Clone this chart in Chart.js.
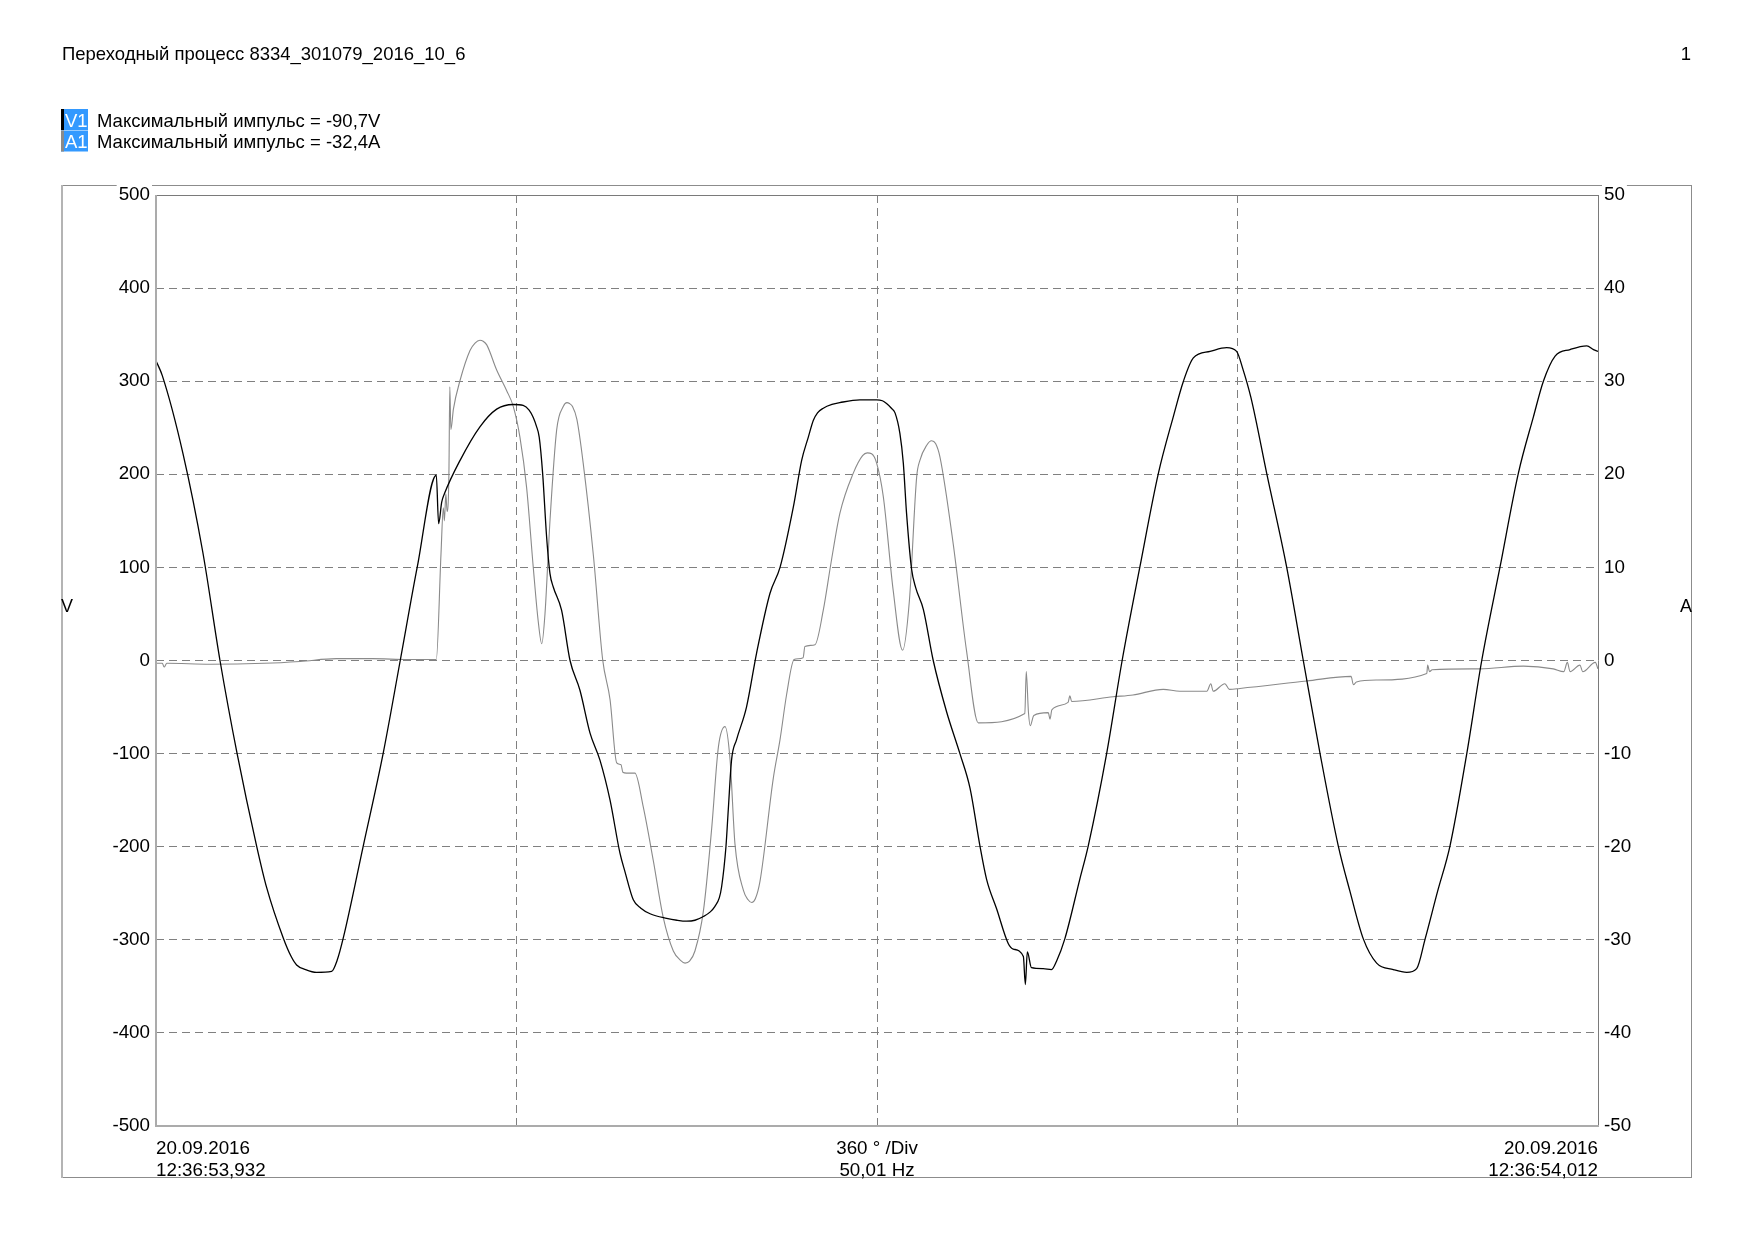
<!DOCTYPE html>
<html lang="ru">
<head>
<meta charset="utf-8">
<title>Переходный процесс 8334_301079_2016_10_6</title>
<script src="https://cdn.jsdelivr.net/npm/chart.js@4.4.1/dist/chart.umd.min.js"></script>
<style>
    html, body { margin: 0; padding: 0; background: #fff; }
    canvas { display: block; }
</style>
</head>
<body>
<canvas id="scope" width="1754" height="1240"></canvas>
<script>
// время, мс от 12:36:53,932
const voltTime = [
    0, 0.35, 1.5, 2.6, 3.55, 4.5, 5.58, 6.14, 7.06, 7.5, 7.8, 8.3, 8.9, 9.74, 10.05, 10.39, 11.5, 12.6, 13.55,
    14.5, 15.55, 15.68, 15.85, 16.0, 16.87, 17.97, 18.9, 19.82, 20.37, 20.7, 20.93, 21.1, 21.26, 21.45, 21.67,
    21.86, 22.04, 22.5, 22.97, 23.52, 24.08, 24.63, 25.19, 25.74, 26.02, 26.48, 26.9, 27.41, 28.33, 28.9, 29.44,
    29.9, 30.37, 30.75, 31.01, 31.25, 31.38, 31.62, 31.75, 31.93, 32.21, 32.76, 33.32, 34.06, 34.62, 35.36, 35.82, 36.19,
    36.47, 36.7, 37.02, 37.5, 37.94, 39.05, 39.98, 40.3, 40.53, 40.8, 41.0, 41.27, 41.46, 41.64, 41.92, 42.15, 42.57, 43.12,
    43.86, 44.6, 45.16, 45.71, 46.08, 46.64, 47.28, 47.56, 48.12, 48.23, 48.34, 48.57, 49.22, 49.68,
    49.96, 50.42, 51.25, 51.72, 52.74, 53.6, 54.59, 55.61, 56.44, 57.0, 57.55, 58.48, 59.4, 59.95,
    60.3, 60.75, 61.62, 62.72, 63.65, 64.58, 65.59, 66.24, 66.98, 67.72, 68.65, 69.39, 69.94, 70.41,
    71.1, 71.79, 72.72, 73.55, 74.57, 75.58, 76.42, 76.97, 77.62, 78.45, 79.38, 79.75, 80
];
const voltValues = [
    322, 306, 222, 116, 0, -100, -199, -244, -298, -318, -327, -332, -335, -334, -322, -298, -199, -100, 0,
    101, 199, 147, 170, 179, 215, 251, 270, 275, 274, 269, 261, 252, 240, 201, 133,
    93, 79, 54, 0, -32, -78, -107, -150, -207, -227, -257, -266, -272, -277, -279, -280,
    -279, -275, -270, -264, -255, -243, -200, -160, -107, -85, -50, 8, 72, 100, 165, 215, 240,
    258, 266, 271, 275, 277, 280, 280, 279, 276, 271, 266, 244, 212, 158, 98, 78, 55, 0,
    -55, -100, -137, -199, -235, -267, -304, -310, -318, -348, -313, -330, -331, -332,
    -323, -299, -235, -199, -100, 0, 101, 201, 262, 300, 325, 332, 336, 332,
    313, 282, 201, 101, 0, -100, -199, -248, -299, -325, -332, -335, -331, -299,
    -248, -199, -100, 0, 101, 201, 262, 300, 327, 334, 338, 334, 332
];

const ampTime = [
    0, 0.35, 0.45, 0.6, 3, 6, 8, 10, 12, 14, 15.55, 15.81, 15.94, 16.0, 16.08, 16.15, 16.25, 16.3,
    16.36, 16.5, 16.87, 17.42, 17.7, 17.97, 18.15, 18.35, 18.9, 19.45, 19.82, 20.19, 20.56, 20.93, 21.2, 21.4,
    21.58, 21.86, 22.23, 22.6, 22.8, 22.94, 23.1, 23.35, 23.7, 24.27, 24.78, 25.19, 25.56, 25.8, 25.9, 26.1,
    26.57, 27.03, 27.59, 28.14, 28.7, 29.1, 29.35, 29.6, 29.9, 30.37, 30.83, 31.2, 31.57, 31.85, 32.12, 32.59,
    32.85, 33.05, 33.25, 33.51, 34.25, 34.62, 34.99, 35.4, 35.9, 36.0, 36.56, 37.02, 37.45, 37.94, 38.68, 39.2, 39.46,
    39.7, 39.98, 40.35, 40.9, 41.42, 41.8, 42.2, 42.38, 42.75, 43.03, 43.25, 43.5, 44.23, 44.97, 45.62, 48.2, 48.28,
    48.4, 48.5, 48.7, 49.5, 49.6, 49.7, 50.6, 50.7, 50.8, 53.1, 54.2, 55.88, 56.8, 58.3,
    58.52, 58.65, 59.3, 59.55, 60.14, 63.84, 66.3, 66.43, 66.6, 67.7, 70.5, 70.55, 70.65, 70.8,
    73.45, 75.86, 77.52, 78.1, 78.3, 78.45, 79.0, 79.15, 79.85, 80
];
const ampValues = [
    -0.3, -0.3, -0.7, -0.3, -0.4, -0.3, -0.1, 0.2, 0.2, 0.1, 0.1, 11.4, 16.4, 15, 17.9, 16, 20, 29.4,
    24.8, 27, 30.1, 33.3, 34.1, 34.4, 34.3, 33.9, 31.2, 29.0, 27.3, 24.0, 18.6, 10, 4.3, 1.8,
    5.0, 15.1, 24.8, 27.3, 27.7, 27.6, 27.3, 25.9, 21.2, 11.2, 0.1, -4.2, -11.0, -11.2, -12.0, -12.1,
    -12.1, -15.7, -21.5, -27.6, -31.2, -32.2, -32.5, -32.3, -31.2, -26.9, -18.0, -9.3, -7.1, -10.7, -19.7, -24.7,
    -25.7, -26.0, -25.6, -23.7, -12.6, -8.5, -3.6, 0.1, 0.3, 1.5, 1.7, 5.4, 10.5, 15.8, 20.1, 22.0, 22.3,
    22.2, 21.2, 17.6, 7.5, 1.1, 6.5, 19.7, 21.5, 23.1, 23.6, 23.3, 21.8, 12.5, 1.0, -6.7, -5.7, -1.2,
    -5.5, -7.0, -5.9, -5.6, -6.3, -5.3, -4.5, -3.8, -4.4, -3.9, -3.7, -3.1, -3.3, -3.3,
    -2.5, -3.3, -2.5, -3.1, -3.0, -2.2, -1.7, -2.6, -2.3, -2.1, -1.4, -0.5, -1.2, -1.0,
    -0.9, -0.6, -0.9, -1.2, -0.2, -1.2, -0.5, -1.2, -0.2, -0.9
];

const timeTickValues = [0, 40, 80];
const timeTickLabels = [
    ['20.09.2016', '12:36:53,932'],
    ['360 ° /Div', '50,01 Hz'],
    ['20.09.2016', '12:36:54,012']
];

const titleText = 'Переходный процесс 8334_301079_2016_10_6';
const pageNumber = '1';
const legendTags = ['V1', 'A1'];
const legendTexts = ['Максимальный импульс = -90,7V', 'Максимальный импульс = -32,4A'];
const legendStripes = ['#000000', '#8a8a8a'];

const FONT = "'Liberation Sans', Arial, sans-serif";

const scopeDecorPlugin = {
    id: 'scopeDecor',
    beforeDraw(chart) {
        const { ctx } = chart;
        ctx.save();
        // внешняя рамка
        ctx.strokeStyle = '#8c8c8c';
        ctx.lineWidth = 1;
        ctx.strokeRect(62.5, 185.5, 1629, 992);
        ctx.strokeStyle = '#b4b4b4';
        ctx.lineWidth = 2;
        ctx.beginPath();
        ctx.moveTo(62, 185);
        ctx.lineTo(62, 1178);
        ctx.stroke();

        ctx.fillStyle = '#000';
        ctx.font = `18.5px ${FONT}`;
        ctx.textBaseline = 'alphabetic';
        ctx.textAlign = 'left';
        ctx.fillText(titleText, 62, 59.5);
        ctx.textAlign = 'right';
        ctx.fillText(pageNumber, 1691, 59.5);

        // легенда
        legendTags.forEach((tag, i) => {
            const top = 109 + i * 21.5;
            ctx.fillStyle = '#3399ff';
            ctx.fillRect(61, top, 27, 21);
            ctx.fillStyle = legendStripes[i];
            ctx.fillRect(61, top, 3, 21);
            ctx.fillStyle = '#fff';
            ctx.textAlign = 'left';
            ctx.fillText(tag, 65, top + 17.5);
            ctx.fillStyle = '#000';
            ctx.fillText(legendTexts[i], 97, top + 17.5);
        });

        ctx.font = `18px ${FONT}`;
        ctx.textAlign = 'center';
        ctx.fillText('V', 67, 612);
        ctx.fillText('A', 1686, 612);
        ctx.restore();
    },
    afterDraw(chart) {
        const { ctx, chartArea: { left, right, top, bottom } } = chart;
        ctx.save();
        ctx.strokeStyle = '#7a7a7a';
        ctx.lineWidth = 1;
        ctx.beginPath();
        ctx.moveTo(left, top + 0.5);
        ctx.lineTo(right, top + 0.5);
        ctx.moveTo(right + 0.5, top);
        ctx.lineTo(right + 0.5, bottom);
        ctx.stroke();
        ctx.strokeStyle = '#ababab';
        ctx.lineWidth = 2;
        ctx.beginPath();
        ctx.moveTo(left, top);
        ctx.lineTo(left, bottom);
        ctx.lineTo(right + 1, bottom);
        ctx.stroke();
        ctx.restore();
    }
};

const voltPoints = voltTime.map((t, i) => ({ x: t, y: voltValues[i] }));
const ampPoints = ampTime.map((t, i) => ({ x: t, y: ampValues[i] }));

const tickFont = { family: FONT, size: 18.8, lineHeight: 1.15 };

new Chart(document.getElementById('scope').getContext('2d'), {
    type: 'line',
    data: {
        datasets: [
            { label: 'V1', data: voltPoints, yAxisID: 'yV', borderColor: '#000', borderWidth: 1.3, pointRadius: 0, cubicInterpolationMode: 'monotone' },
            { label: 'A1', data: ampPoints, yAxisID: 'yA', borderColor: '#8a8a8a', borderWidth: 1.1, pointRadius: 0, cubicInterpolationMode: 'monotone' }
        ]
    },
    options: {
        responsive: false,
        animation: false,
        layout: { padding: { top: 195, left: 0, right: 0, bottom: 0 } },
        plugins: { legend: { display: false }, tooltip: { enabled: false } },
        scales: {
            x: {
                type: 'linear',
                min: 0,
                max: 80,
                afterFit(scale) { scale.height = 114; },
                ticks: {
                    stepSize: 20,
                    autoSkip: false,
                    maxRotation: 0,
                    align: 'inner',
                    padding: 12,
                    color: '#000',
                    font: tickFont,
                    callback(value) {
                        const idx = timeTickValues.indexOf(value);
                        return idx >= 0 ? timeTickLabels[idx] : '';
                    }
                },
                grid: { color: '#808080', lineWidth: 1, drawTicks: false },
                border: { display: false, dash: [8, 5] }
            },
            yV: {
                position: 'left',
                min: -500,
                max: 500,
                afterFit(scale) { scale.width = 156; },
                ticks: {
                    stepSize: 100,
                    padding: 6,
                    color: '#000',
                    font: { family: FONT, size: 18.8 },
                    showLabelBackdrop: true,
                    backdropColor: '#fff',
                    backdropPadding: 2,
                    callback: (value) => String(value)
                },
                grid: { color: '#808080', lineWidth: 1, drawTicks: false },
                border: { display: false, dash: [8, 5] }
            },
            yA: {
                position: 'right',
                min: -50,
                max: 50,
                afterFit(scale) { scale.width = 156; },
                ticks: {
                    stepSize: 10,
                    padding: 6,
                    color: '#000',
                    font: { family: FONT, size: 18.8 },
                    showLabelBackdrop: true,
                    backdropColor: '#fff',
                    backdropPadding: 2,
                    callback: (value) => String(value)
                },
                grid: { display: false, drawTicks: false },
                border: { display: false }
            }
        }
    },
    plugins: [scopeDecorPlugin]
});
</script>
</body>
</html>
